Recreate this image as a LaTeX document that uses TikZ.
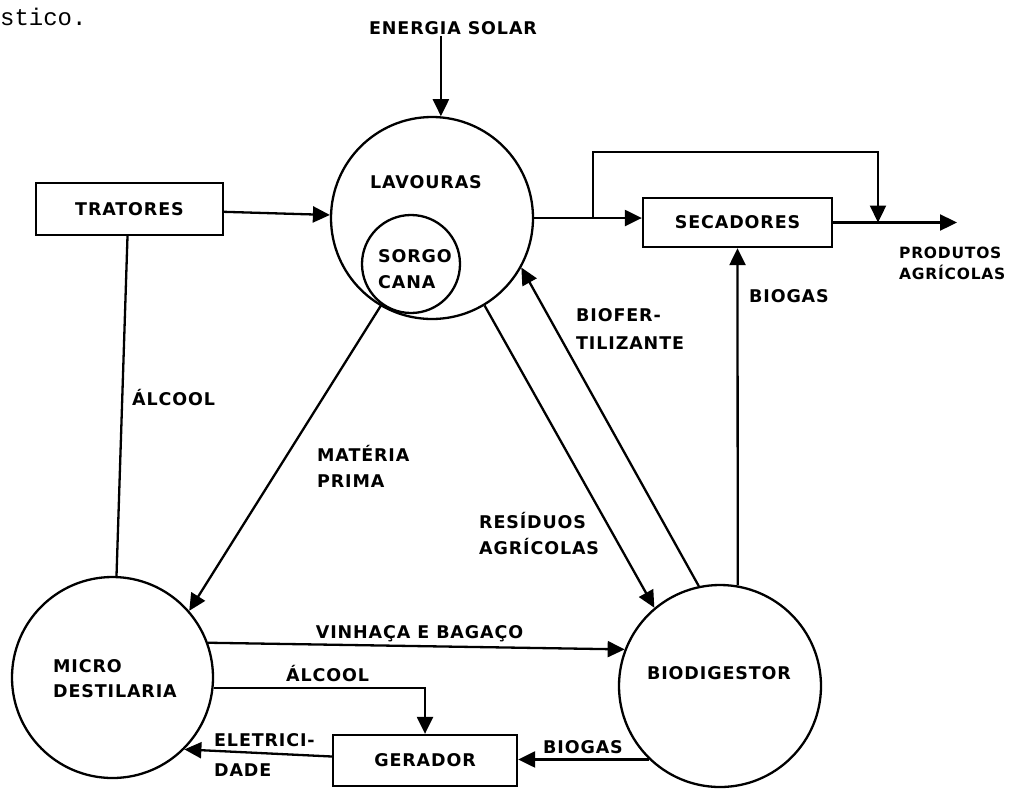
\documentclass[tikz,border=0pt]{standalone}
\usepackage{fontspec}
\setmainfont{DejaVu Sans}[LetterSpace=5]
\newfontfamily\monof{Liberation Mono}
\usetikzlibrary{arrows.meta}
\begin{document}
\begin{tikzpicture}[x=1pt,y=-1pt,line width=2.3pt,
  arr/.style={-{Triangle[length=17pt,width=16pt]}},
  lbl/.style={font=\bfseries\fontsize{17.5}{20}\selectfont,inner sep=0pt},
  ml/.style={lbl,align=left,anchor=north west,font=\bfseries\fontsize{17.5}{#1}\selectfont},
  circ/.style={draw,circle,inner sep=0pt},
  box/.style={draw,rectangle,inner sep=0pt,font=\bfseries\fontsize{17.5}{20}\selectfont}]
\useasboundingbox (0,0) rectangle (1014,793);

\node[font=\monof\fontsize{24}{24}\selectfont,anchor=base west,inner sep=0pt] (st) at (-1,25) {stico.};

% shapes
\node[circ,minimum size=202pt] (lav) at (432,218) {};
\node[circ,minimum size=98pt] (sc) at (411,264) {};
\node[circ,minimum size=201pt] (md) at (112.5,677.5) {};
\node[circ,minimum size=202pt] (bd) at (720,686) {};
\node[box,minimum width=187pt,minimum height=52pt] (tr) at (129.5,209) {TRATORES};
\node[box,minimum width=189pt,minimum height=49pt] (sec) at (737.5,222.5) {SECADORES};
\node[box,minimum width=184pt,minimum height=51pt] (ger) at (425,760.5) {GERADOR};

% texts
\node[lbl,anchor=base] (es) at (453,34.5) {ENERGIA SOLAR};
\node[lbl,anchor=base] (lavt) at (426,188.5) {LAVOURAS};
\node[ml=26] (sct) at (377,248.5) {SORGO\\CANA};
\node[ml=21,font=\bfseries\fontsize{15.5}{21}\selectfont] (pa) at (898,246) {PRODUTOS\\AGRÍCOLAS};
\node[lbl,anchor=base] (alc1) at (173.5,405.5) {ÁLCOOL};
\node[ml=26] (mp) at (316,444) {MATÉRIA\\PRIMA};
\node[ml=26] (ra) at (478,511) {RESÍDUOS\\AGRÍCOLAS};
\node[ml=28] (bf) at (575,307.5) {BIOFER-\\TILIZANTE};
\node[lbl,anchor=base west] (bg1) at (748,302.5) {BIOGAS};
\node[lbl,anchor=base] (vb) at (419.5,638) {VINHAÇA E BAGAÇO};
\node[ml=25] (mdt) at (52,658.5) {MICRO\\DESTILARIA};
\node[lbl,anchor=base] (alc2) at (327.5,681.5) {ÁLCOOL};
\node[lbl,anchor=base] (bg2) at (583,753) {BIOGAS};
\node[lbl,anchor=base] (bdt) at (719,679.5) {BIODIGESTOR};
\node[ml=30] (el) at (213,732) {ELETRICI-\\DADE};

% connectors
\coordinate (b1) at (593,218);
\coordinate (b2) at (878,222.5);
\coordinate (po) at (957,222.5);
\draw[arr] (es.south -| lav.85) -- (lav.85);
\draw[arr] (tr) -- (lav);
\draw ([xshift=-2pt]tr.south) -- ([xshift=4pt]md.north);
\draw[arr] (lav.east) -- (lav.east -| sec.west);
\draw[arr] (b1) -- ++(0,-66) -| (b2);
\draw[arr] (sec.east) -- (po);
\draw[arr] (bd.80) -- (sec.south);
\draw[arr] (bd.102) -- (lav.-29);
\draw[arr] (lav.-59) -- (bd.130);
\draw[arr] (sc.-126) -- (md.41);
\draw[arr] (md.20) -- (bd.159);
\draw[arr] (md.-6) -| (ger.north);
\draw[arr] (bd.226) -- (bd.226 -| ger.east);
\draw[arr] ([yshift=4pt]ger.west) -- (md.-45);
\end{tikzpicture}
\end{document}
